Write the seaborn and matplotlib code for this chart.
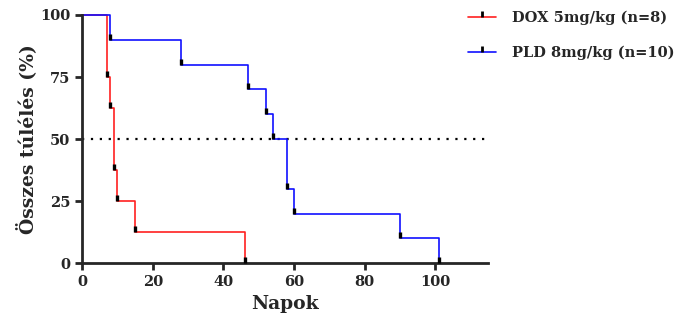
import matplotlib
matplotlib.use("Agg")
import matplotlib.pyplot as plt
import seaborn as sns
import pandas as pd
from matplotlib.lines import Line2D

dox_days = [0, 7, 8, 9, 10, 15, 46]
dox_surv = [100, 75, 62.5, 37.5, 25, 12.5, 0]
pld_days = [0, 8, 28, 47, 52, 54, 58, 60, 90, 101]
pld_surv = [100, 90, 80, 70, 60, 50, 30, 20, 10, 0]
labels = ["DOX 5mg/kg (n=8)", "PLD 8mg/kg (n=10)"]
colors = ["#ff2020", "#1010ff"]
x_ticks = [0, 20, 40, 60, 80, 100]
y_ticks = [0, 25, 50, 75, 100]

sns.set_style("ticks")
plt.rcParams['font.family'] = ['DejaVu Serif']
plt.rcParams['font.weight'] = 'bold'

df = pd.concat([
    pd.DataFrame({"day": dox_days, "surv": dox_surv, "group": labels[0]}),
    pd.DataFrame({"day": pld_days, "surv": pld_surv, "group": labels[1]}),
], ignore_index=True)

fig = plt.figure(figsize=(6.84, 3.25), dpi=100)
ax = fig.add_axes([0.12, 0.19, 0.594, 0.764])

sns.lineplot(data=df, x="day", y="surv", hue="group", palette=colors,
             drawstyle="steps-post", estimator=None, sort=False,
             linewidth=1.2, legend=False, ax=ax)

for days, surv in [(dox_days, dox_surv), (pld_days, pld_surv)]:
    ax.plot(days[1:], surv[1:], linestyle="none", marker=2, markersize=4,
            markeredgewidth=2.4, color="black", zorder=5)

ax.axhline(50, color="black", linestyle=(0, (1, 3)), linewidth=1.6, zorder=1)

ax.set_xlim(0, 115)
ax.set_ylim(0, 100)
ax.set_xticks(x_ticks)
ax.set_yticks(y_ticks)
ax.set_xlabel("Napok", fontsize=13.5, fontweight="bold", labelpad=4)
ax.set_ylabel("Összes túlélés (%)", fontsize=13.5, fontweight="bold", labelpad=2)
ax.tick_params(axis="both", labelsize=10.5, width=2, length=5, direction="out")
for lab in ax.get_xticklabels() + ax.get_yticklabels():
    lab.set_fontweight("bold")
sns.despine(ax=ax)
for s in ["left", "bottom"]:
    ax.spines[s].set_linewidth(2)
ax.spines["bottom"].set_clip_on(False)
ax.spines["left"].set_clip_on(False)
for ln in ax.lines[:2]:
    ln.set_clip_on(False)

handles = [Line2D([0], [0], color=c, linewidth=1.2, marker=2, markersize=4,
                  markeredgewidth=2, markeredgecolor="black") for c in colors]
fig.legend(handles, labels, loc="upper left", bbox_to_anchor=(0.665, 1.008),
           frameon=False, prop={"size": 10.5, "weight": "bold"},
           handlelength=1.9, labelspacing=1.4, handletextpad=1.1)

fig.savefig("out.png", dpi=100)
